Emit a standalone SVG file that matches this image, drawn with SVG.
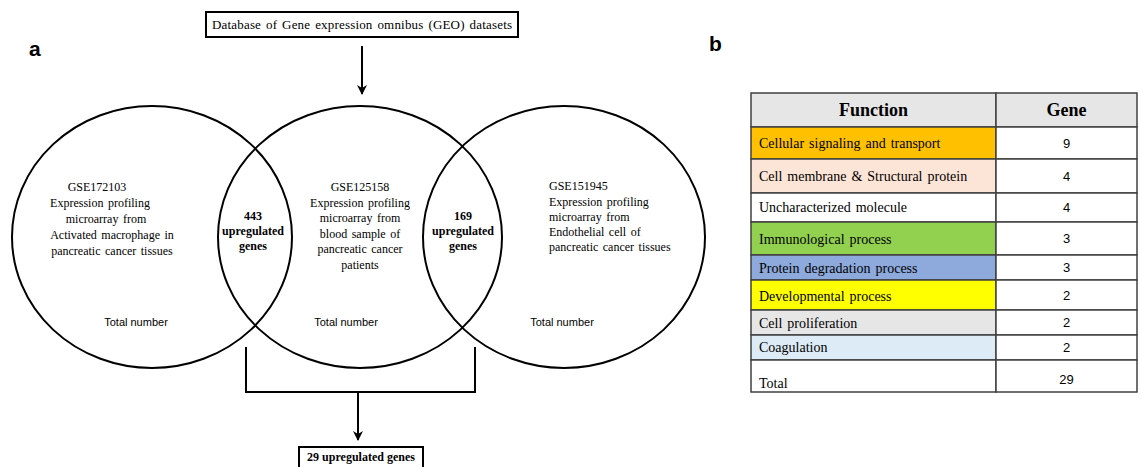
<svg xmlns="http://www.w3.org/2000/svg" width="1143" height="467" viewBox="0 0 1143 467">
<style>
.bg{fill:#fff}
.ln{fill:none;stroke:#000;stroke-width:2}
.box{fill:#fff;stroke:#000;stroke-width:2}
.ser{font-family:"Liberation Serif","Times New Roman",serif;font-size:12px;fill:#000;word-spacing:1.5px}
.serb{font-family:"Liberation Serif","Times New Roman",serif;font-size:12px;font-weight:bold;fill:#000}
.san{font-family:"Liberation Sans",Arial,sans-serif;font-size:11px;fill:#000}
.lab{font-family:"Liberation Sans",Arial,sans-serif;font-size:21px;font-weight:bold;fill:#000}
.cell{stroke:#404040;stroke-width:1.5}
.fn{font-family:"Liberation Serif","Times New Roman",serif;font-size:14px;fill:#000;word-spacing:1.5px}
.hd{font-family:"Liberation Serif","Times New Roman",serif;font-size:18px;font-weight:bold;fill:#000}
.num{font-family:"Liberation Sans",Arial,sans-serif;font-size:13px;fill:#000}
.mid{text-anchor:middle}
</style>
<defs>
<marker id="ah" viewBox="0 0 10 10" refX="9" refY="5" markerWidth="5" markerHeight="5" orient="auto" markerUnits="strokeWidth">
<path d="M0,0 L10,5 L0,10 L3,5 z" fill="#000"/>
</marker>
</defs>
<rect class="bg" x="0" y="0" width="1143" height="467"/>

<text class="lab" x="29" y="56">a</text>
<text class="lab" x="709" y="51">b</text>

<g id="geo-box">
<rect class="box" x="206" y="12" width="312" height="25"/>
<text class="ser mid" x="362" y="29" style="font-size:13px" textLength="300" lengthAdjust="spacing">Database of Gene expression omnibus (GEO) datasets</text>
</g>

<g id="circle-left">
<ellipse class="ln" cx="152" cy="237" rx="140" ry="131"/>
<text class="ser mid" x="97" y="191">GSE172103</text>
<text class="ser mid" x="100" y="207">Expression profiling</text>
<text class="ser mid" x="106" y="223">microarray  from</text>
<text class="ser mid" x="112" y="239">Activated macrophage in</text>
<text class="ser mid" x="112" y="255">pancreatic cancer tissues</text>
<text class="san mid" x="136" y="326">Total number</text>
</g>

<g id="circle-middle">
<ellipse class="ln" cx="360" cy="237" rx="142" ry="131"/>
<text class="ser mid" x="360" y="191">GSE125158</text>
<text class="ser mid" x="360" y="206.5">Expression profiling</text>
<text class="ser mid" x="360" y="222">microarray  from</text>
<text class="ser mid" x="360" y="237.5">blood sample of</text>
<text class="ser mid" x="360" y="253">pancreatic cancer</text>
<text class="ser mid" x="360" y="268.5">patients</text>
<text class="san mid" x="346" y="326">Total number</text>
</g>

<g id="circle-right">
<ellipse class="ln" cx="564" cy="237" rx="141" ry="131"/>
<text class="ser" x="549" y="190">GSE151945</text>
<text class="ser" x="549" y="205.5">Expression profiling</text>
<text class="ser" x="549" y="221">microarray  from</text>
<text class="ser" x="549" y="236">Endothelial cell of</text>
<text class="ser" x="549" y="251">pancreatic cancer tissues</text>
<text class="san mid" x="562" y="326">Total number</text>
</g>

<g id="overlap-443">
<text class="serb mid" x="253" y="220">443</text>
<text class="serb mid" x="253" y="235">upregulated</text>
<text class="serb mid" x="253" y="250">genes</text>
</g>

<g id="overlap-169">
<text class="serb mid" x="463" y="220">169</text>
<text class="serb mid" x="463" y="235">upregulated</text>
<text class="serb mid" x="463" y="250">genes</text>
</g>

<g id="result-box">
<rect class="box" x="299" y="447" width="124" height="24"/>
<text class="serb mid" x="361" y="461">29 upregulated genes</text>
</g>

<g id="connectors">
<line class="ln" x1="362" y1="46" x2="362" y2="94" marker-end="url(#ah)"/>
<polyline class="ln" points="246,347 246,392 475,392 475,347"/>
<line class="ln" x1="358" y1="392" x2="358" y2="440" marker-end="url(#ah)"/>
</g>

<g id="table">
<rect class="cell" x="751" y="93" width="245" height="34" fill="#E6E6E6"/>
<rect class="cell" x="996" y="93" width="141" height="34" fill="#E6E6E6"/>
<rect class="cell" x="751" y="127" width="245" height="32" fill="#FFC000"/>
<rect class="cell" x="996" y="127" width="141" height="32" fill="#fff"/>
<rect class="cell" x="751" y="159" width="245" height="34" fill="#FCE4D6"/>
<rect class="cell" x="996" y="159" width="141" height="34" fill="#fff"/>
<rect class="cell" x="751" y="193" width="245" height="29" fill="#fff"/>
<rect class="cell" x="996" y="193" width="141" height="29" fill="#fff"/>
<rect class="cell" x="751" y="222" width="245" height="33" fill="#92D050"/>
<rect class="cell" x="996" y="222" width="141" height="33" fill="#fff"/>
<rect class="cell" x="751" y="255" width="245" height="25" fill="#8EA9DB"/>
<rect class="cell" x="996" y="255" width="141" height="25" fill="#fff"/>
<rect class="cell" x="751" y="280" width="245" height="30" fill="#FFFF00"/>
<rect class="cell" x="996" y="280" width="141" height="30" fill="#fff"/>
<rect class="cell" x="751" y="310" width="245" height="25" fill="#E7E6E6"/>
<rect class="cell" x="996" y="310" width="141" height="25" fill="#fff"/>
<rect class="cell" x="751" y="335" width="245" height="25" fill="#DDEBF7"/>
<rect class="cell" x="996" y="335" width="141" height="25" fill="#fff"/>
<rect class="cell" x="751" y="360" width="245" height="32" fill="#fff"/>
<rect class="cell" x="996" y="360" width="141" height="32" fill="#fff"/>

<text class="hd mid" x="873.5" y="116">Function</text>
<text class="hd mid" x="1066.5" y="116">Gene</text>

<text class="fn" x="759" y="148">Cellular signaling and transport</text>
<text class="fn" x="759" y="181">Cell membrane &amp; Structural  protein</text>
<text class="fn" x="759" y="212">Uncharacterized molecule</text>
<text class="fn" x="759" y="244">Immunological process</text>
<text class="fn" x="759" y="273">Protein degradation process</text>
<text class="fn" x="759" y="301">Developmental process</text>
<text class="fn" x="759" y="328">Cell proliferation</text>
<text class="fn" x="759" y="352">Coagulation</text>
<text class="fn" x="759" y="388">Total</text>

<text class="num mid" x="1066.5" y="148">9</text>
<text class="num mid" x="1066.5" y="181">4</text>
<text class="num mid" x="1066.5" y="212">4</text>
<text class="num mid" x="1066.5" y="243">3</text>
<text class="num mid" x="1066.5" y="272">3</text>
<text class="num mid" x="1066.5" y="300">2</text>
<text class="num mid" x="1066.5" y="327">2</text>
<text class="num mid" x="1066.5" y="352">2</text>
<text class="num mid" x="1066.5" y="384">29</text>
</g>
</svg>
